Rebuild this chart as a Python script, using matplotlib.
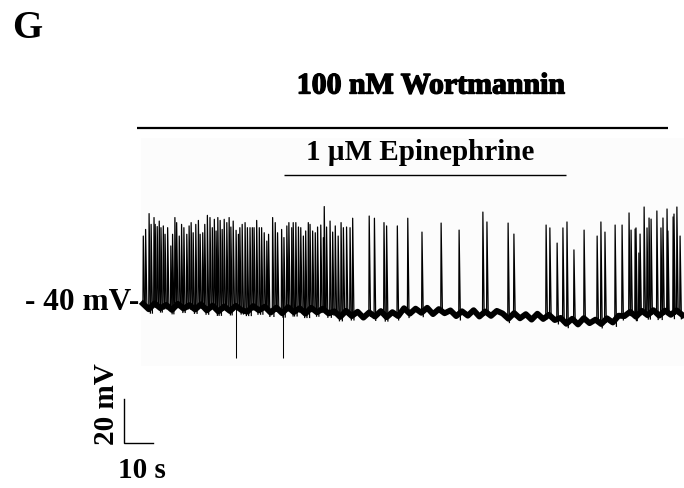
import numpy as np
import matplotlib
matplotlib.use("Agg")
import matplotlib.pyplot as plt
import matplotlib.patheffects as pe
from matplotlib.patches import Rectangle
from matplotlib.collections import LineCollection

# ---------------- data (time in s, voltage in mV) ----------------
# membrane potential baseline, sampled every 2 s (t = 0 ... 186 s)
baseline_mv = [
    -39.0, -41.5, -38.8, -41.0, -39.5, -41.8, -39.0, -41.2, -39.6, -41.6, -39.2,
    -42.0, -39.8, -42.5, -40.2, -42.3, -39.9, -41.9, -42.6, -40.0, -42.0,
    -40.3, -43.0, -40.7, -43.3, -40.5, -42.8, -41.0, -43.5, -40.8, -42.9, -41.2, -43.4,
    -42.4, -45.0, -42.2, -44.6, -42.6, -45.3, -42.9, -44.8, -42.3, -45.1, -42.8, -44.6,
    -41.0, -43.5, -41.2, -43.1, -40.8, -43.7, -41.4, -43.3,
    -42.0, -44.6, -42.4, -44.4, -41.9, -44.8, -42.5, -44.5, -42.2,
    -43.4, -45.8, -43.2, -45.6, -43.7, -46.2, -43.5, -45.9, -44.0, -46.4,
    -45.4, -48.1, -45.8, -48.4, -45.5, -47.8, -46.2, -48.2, -45.6, -47.5,
    -44.4, -44.6, -42.6, -44.9, -42.2, -44.2, -41.9, -44.4, -42.1, -44.0, -42.0, -44.1,
]
baseline_step_s = 2.0

# action potentials: time (s) and peak (mV)
spike_times = [
    0.1, 0.9, 2.1, 2.8, 3.8, 4.2, 4.9, 5.6, 6.2, 7.0, 7.6, 8.5, 9.6, 10.2, 11.0, 11.6,
    12.5, 13.3, 14.1, 15.1, 15.9, 16.6, 17.3, 18.2, 19.1, 19.7, 20.6, 21.3, 22.2, 23.1,
    23.9, 24.6, 25.2, 25.8, 26.6, 27.3, 28.0, 28.9, 29.7, 30.3, 31.1, 32.1, 32.9, 33.4,
    34.2, 35.2, 36.0, 36.9, 37.7, 38.3, 39.2, 40.1, 40.9, 41.8, 42.7, 43.3, 44.7, 45.6,
    46.4, 47.8, 48.6, 49.6, 50.3, 51.3, 51.8, 52.7, 53.6, 54.4, 55.3, 56.1, 57.0, 57.6,
    58.5, 59.4, 60.2, 61.3, 62.2, 62.5, 63.3, 64.5, 65.4, 66.3, 67.3, 68.3, 69.1, 70.2,
    71.4, 72.3, 78.0, 79.8, 83.1, 84.0, 87.7, 91.3,
    96.2, 102.8, 109.0, 117.2, 118.6, 125.9, 127.9, 139.0, 140.3, 142.8, 144.8, 146.2,
    148.6, 152.1, 156.6, 157.9, 159.3, 162.8, 165.2, 167.6, 168.3, 169.7, 170.0, 171.0,
    171.4, 172.8, 173.8, 174.5, 175.2, 177.2, 178.6, 179.3, 180.7, 181.0, 182.8, 183.1,
    184.1, 185.2,
]
spike_peaks = [
    -8.2, -5.2, 2.0, -2.9, 0.2, -2.9, -3.9, -1.4, -4.4, -3.6, -7.4, -4.4, -12.7, -7.4, 0.2, -2.1,
    -8.2, -2.9, -4.4, -7.4, -3.6, -2.1, -6.7, -2.9, -1.1, -7.4, -6.7, -2.9, 1.2, 0.2,
    -4.4, -0.6, -5.9, 0.2, -1.1, -5.2, -0.6, -2.1, 0.2, -4.1, -1.4, -5.6, -7.4, -4.4,
    -2.9, -2.1, -4.4, -4.4, -4.4, -4.4, -1.1, -4.4, -4.4, -6.7, -10.5, -7.4, 0.2, -2.1,
    -6.7, -5.2, -8.9, -3.6, -2.1, -4.4, -2.1, -2.1, -4.1, -4.4, -8.2, -5.9, -2.1, -2.9,
    -5.9, -6.7, -4.1, -3.2, -8.9, 5.2, -4.1, -1.4, -6.4, -3.6, -8.2, -2.1, -4.4, -4.1,
    -4.4, -0.1, 0.9, -0.1, -2.1, -3.6, -3.6, -0.1,
    -6.4, -2.3, -5.5, 2.7, -1.8, -2.3, -7.3, -3.2, -4.5, -11.4, -4.5, -1.8,
    -14.5, -5.5, -8.2, -1.8, -6.4, -3.2, -3.2, 2.3, -5.5, -5.0, -4.5, -15.9,
    -7.3, 5.0, -4.5, 0.0, -0.5, 3.2, -4.5, 0.0, 4.1, -5.9, 0.5, 1.8,
    5.0, -8.2,
]
# downward artefacts
down_times = [32.1, 48.3]
down_peaks = [-63.6, -63.6]

# drug application periods (s)
wortmannin_period = [-2.0, 181.0]
epinephrine_period = [48.6, 145.9]
wortmannin_label = "100 nM Wortmannin"
epinephrine_label = "1 \u00b5M Epinephrine"
holding_label = "- 40 mV-"
scale_mv = 20
scale_s = 10

# ---------------- figure ----------------
W, H = 684, 488
fig = plt.figure(figsize=(W / 100, H / 100), dpi=100)
fig.patch.set_facecolor("white")

# faint background behind the trace
bg = Rectangle((141 / W, 1 - 366 / H), (W - 141) / W, (366 - 138) / H,
               transform=fig.transFigure, facecolor="#fcfcfc",
               edgecolor="none", zorder=-5)
fig.patches.append(bg)

ax = fig.add_axes([0, 0, 1, 1], zorder=1)
ax.patch.set_alpha(0)
px_per_s = 2.9
px_per_mv = 2.2
x0_px, y0_px = 143, 306  # pixel of t=0, -40 mV
ax.set_xlim(-x0_px / px_per_s, (W - x0_px) / px_per_s)
ax.set_ylim(-40 - (H - y0_px) / px_per_mv, -40 + y0_px / px_per_mv)
ax.axis("off")

base = np.asarray(baseline_mv)
t_base = np.arange(len(base)) * baseline_step_s
st = np.asarray(spike_times)
pk = np.asarray(spike_peaks)
idx = np.clip(np.round(st / baseline_step_s).astype(int), 0, len(base) - 1)

# each spike: fast rise, slightly slower repolarisation
rise, fall = 0.12, 0.45
segs = [[(t - rise, b), (t, p), (t + fall, b - 2.0)] for t, p, b in zip(st, pk, base[idx])]
ax.add_collection(LineCollection(segs, colors="black", linewidths=0.9, zorder=3))

dt = np.asarray(down_times)
didx = np.clip(np.round(dt / baseline_step_s).astype(int), 0, len(base) - 1)
ax.vlines(dt, down_peaks, base[didx], color="black", lw=0.75, zorder=3)
ax.plot(t_base, base, color="black", lw=4.2, solid_joinstyle="round", zorder=4)
ax.plot(t_base, base, color="black", lw=1.0, zorder=4)

# drug bars
ytop = ax.get_ylim()[1]
ax.plot(wortmannin_period, [ytop - 128 / px_per_mv] * 2, color="black", lw=1.6,
        solid_capstyle="butt")
ax.plot(epinephrine_period, [ytop - 175 / px_per_mv] * 2, color="black", lw=1.0,
        solid_capstyle="butt")

# scale bar
sb_t = (124 - x0_px) / px_per_s
sb_v = -40 - (443 - y0_px) / px_per_mv
ax.plot([sb_t, sb_t, sb_t + scale_s], [sb_v + scale_mv, sb_v, sb_v], color="black", lw=1.0,
        solid_joinstyle="miter")

font = dict(family="Liberation Serif", weight="bold", color="black")


def ftext(x, y, s, size, **kw):
    return fig.text(x / W, 1 - y / H, s, fontsize=size, ha="center", va="center", **font, **kw)


ftext(27, 29, "G", 28)
wt = ftext(431, 86, wortmannin_label, 21.5)
wt.set_path_effects([pe.withStroke(linewidth=1.0, foreground="black")])
ftext(420, 152, epinephrine_label, 21)
ftext(82, 302, holding_label, 22.5)
ftext(106, 404, f"{scale_mv} mV", 21, rotation=90)
ftext(142, 470, f"{scale_s} s", 21)

fig.savefig("out.png", dpi=100, facecolor="white")
